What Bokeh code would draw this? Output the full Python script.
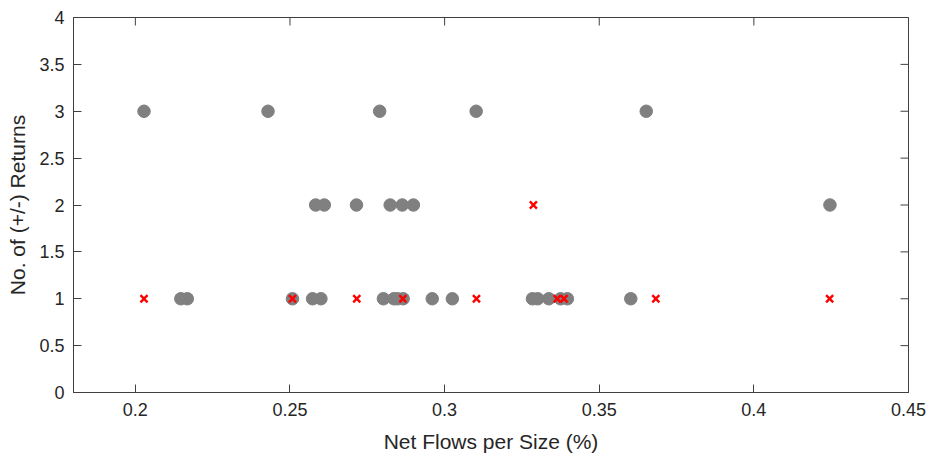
import math
from bokeh.plotting import figure
from bokeh.models import LinearAxis, FixedTicker, Range1d, ColumnDataSource
from bokeh.embed import file_html
from bokeh.resources import INLINE

# ---- data ----
gray_x = [0.2028, 0.2429, 0.2790, 0.3102, 0.3652,
          0.2583, 0.2611, 0.2715, 0.2824, 0.2863, 0.2899, 0.4246,
          0.2147, 0.2168, 0.2508, 0.2573, 0.2600, 0.2802, 0.2836, 0.2848,
          0.2866, 0.2960, 0.3025, 0.3284, 0.3301, 0.3337, 0.3375, 0.3397, 0.3602]
gray_y = [3, 3, 3, 3, 3,
          2, 2, 2, 2, 2, 2, 2,
          1, 1, 1, 1, 1, 1, 1, 1,
          1, 1, 1, 1, 1, 1, 1, 1, 1]

red_x = [0.2028, 0.2508, 0.2716, 0.2865, 0.3103, 0.3287, 0.3364, 0.3386, 0.3683, 0.4245]
red_y = [1, 1, 1, 1, 1, 2, 1, 1, 1, 1]

x_ticks = [0.2, 0.25, 0.3, 0.35, 0.4, 0.45]
x_tick_labels = ["0.2", "0.25", "0.3", "0.35", "0.4", "0.45"]
y_ticks = [0, 0.5, 1, 1.5, 2, 2.5, 3, 3.5, 4]
y_tick_labels = ["0", "0.5", "1", "1.5", "2", "2.5", "3", "3.5", "4"]

x_min, x_max = 0.18, 0.45
y_min, y_max = 0, 4

x_label = "Net Flows per Size (%)"
y_label = "No. of (+/-) Returns"

FONT = "Liberation Sans"
TXT = "#262626"
AXC = "#404040"

p = figure(width=932, height=456, output_backend="svg", toolbar_location=None,
           x_range=Range1d(x_min, x_max), y_range=Range1d(y_min, y_max),
           min_border_left=73, min_border_right=24, min_border_top=17,
           min_border_bottom=64, x_axis_type=None, y_axis_type=None)
p.outline_line_color = AXC
p.xgrid.visible = False
p.ygrid.visible = False
p.background_fill_color = "white"
p.border_fill_color = "white"

def style(ax, ticks, labels):
    ax.ticker = FixedTicker(ticks=ticks)
    ax.major_label_overrides = {t: l for t, l in zip(ticks, labels)}
    ax.axis_line_color = AXC
    ax.major_tick_line_color = AXC
    ax.major_tick_in = 8
    ax.major_tick_out = 0
    ax.minor_tick_line_color = None
    ax.major_label_text_font = FONT
    ax.major_label_text_color = TXT
    ax.axis_label_text_font = FONT
    ax.axis_label_text_color = TXT
    ax.axis_label_text_font_style = "normal"
    ax.major_label_text_font_size = "18px"
    ax.axis_label_text_font_size = "21px"

xb = LinearAxis(axis_label=x_label)
style(xb, x_ticks, x_tick_labels)
xb.major_label_standoff = 10
xb.axis_label_standoff = 11
p.add_layout(xb, "below")

yl = LinearAxis(axis_label=y_label)
style(yl, y_ticks, y_tick_labels)
yl.major_label_standoff = 9
yl.axis_label_standoff = 7
p.add_layout(yl, "left")

# mirrored inward ticks on the top and right edges of the box
p.ray(x=x_ticks, y=[y_max] * len(x_ticks), length=8, length_units="screen",
      angle=-math.pi / 2, line_color=AXC, line_width=1)
p.ray(x=[x_max] * len(y_ticks), y=y_ticks, length=8, length_units="screen",
      angle=math.pi, line_color=AXC, line_width=1)

gsrc = ColumnDataSource(dict(x=gray_x, y=gray_y))
rsrc = ColumnDataSource(dict(x=red_x, y=red_y))
p.scatter("x", "y", source=gsrc, marker="circle", size=12.5,
          fill_color="#808080", line_color="#808080")
p.scatter("x", "y", source=rsrc, marker="x", size=10,
          line_color="#ff0000", line_width=2.4)

open("out.html", "w").write(file_html(p, INLINE))
